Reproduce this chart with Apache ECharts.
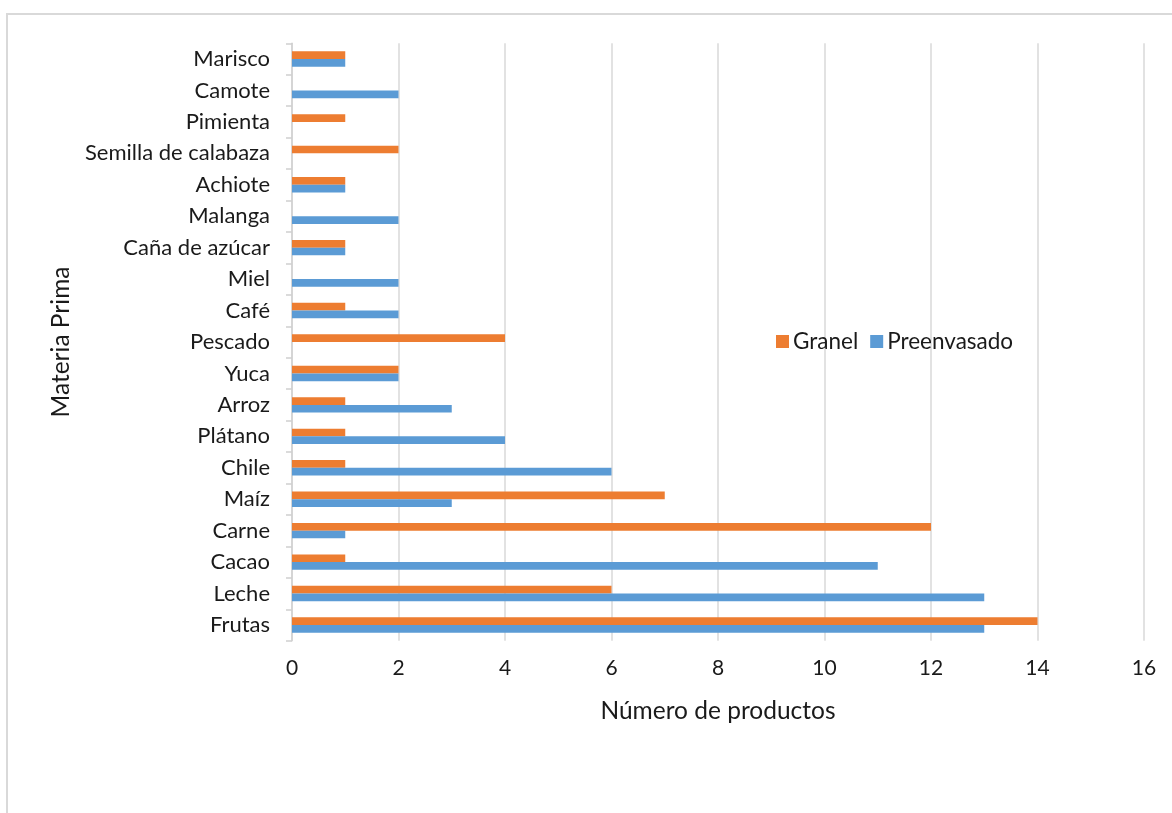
<!DOCTYPE html>
<html>
<head>
<meta charset="utf-8">
<script src="https://cdn.jsdelivr.net/npm/echarts@6/dist/echarts.min.js"></script>
<style>
html,body{margin:0;padding:0;background:#fff;}
#chart{width:1172px;height:813px;}
</style>
</head>
<body>
<div id="chart"></div>
<script>
const categories = ['Frutas','Leche','Cacao','Carne','Maíz','Chile','Plátano','Arroz','Yuca','Pescado','Café','Miel','Caña de azúcar','Malanga','Achiote','Semilla de calabaza','Pimienta','Camote','Marisco'];
const granel =      [14, 6, 1, 12, 7, 1, 1, 1, 2, 4, 1, 0, 1, 0, 1, 2, 1, 0, 1];
const preenvasado = [13, 13, 11, 1, 3, 6, 4, 3, 2, 0, 2, 2, 1, 2, 1, 0, 0, 2, 1];
const xTicks = [0, 2, 4, 6, 8, 10, 12, 14, 16];

const font = 'Lato';
const chart = echarts.init(document.getElementById('chart'));
chart.setOption({
  animation: false,
  textStyle: { fontFamily: font },
  graphic: [{
    type: 'rect', silent: true, z: -10,
    shape: { x: 7, y: 14, width: 1300, height: 1000 },
    style: { fill: 'none', stroke: '#d9d9d9', lineWidth: 2 }
  }],
  legend: {
    data: ['Granel', 'Preenvasado'],
    left: 771, top: 325,
    itemWidth: 13, itemHeight: 13, itemGap: 12,
    icon: 'rect',
    textStyle: { fontFamily: font, fontSize: 22.5, color: '#1a1a1a', padding: [0,0,0,-1] }
  },
  grid: { left: 292, right: 28, top: 43.3, bottom: 172.3, containLabel: false },
  xAxis: {
    type: 'value', min: xTicks[0], max: xTicks[xTicks.length-1], interval: 2,
    axisLine: { show: false }, axisTick: { show: false },
    axisLabel: { fontFamily: font, fontSize: 21, color: '#1a1a1a', margin: 17 },
    splitLine: { lineStyle: { color: '#d9d9d9', width: 1.5 } },
    name: 'Número de productos', nameLocation: 'middle', nameGap: 58,
    nameTextStyle: { fontFamily: font, fontSize: 24.5, color: '#1a1a1a' }
  },
  yAxis: {
    type: 'category', data: categories,
    axisLine: { show: true, lineStyle: { color: '#d0d0d0', width: 1.5 } },
    axisTick: { show: true, length: 6, lineStyle: { color: '#d0d0d0', width: 1.5 } },
    axisLabel: { fontFamily: font, fontSize: 22, color: '#1a1a1a', margin: 22 },
    name: 'Materia Prima', nameLocation: 'middle', nameGap: 218, nameRotate: 90,
    nameTextStyle: { fontFamily: font, fontSize: 24.5, color: '#1a1a1a' }
  },
  series: [
    { name: 'Granel', type: 'bar', data: granel, barWidth: 7.7, barGap: '0%',
      itemStyle: { color: '#ED7D31' } },
    { name: 'Preenvasado', type: 'bar', data: preenvasado, barWidth: 7.7, barGap: '0%',
      itemStyle: { color: '#5B9BD5' } }
  ]
});
</script>
</body>
</html>
